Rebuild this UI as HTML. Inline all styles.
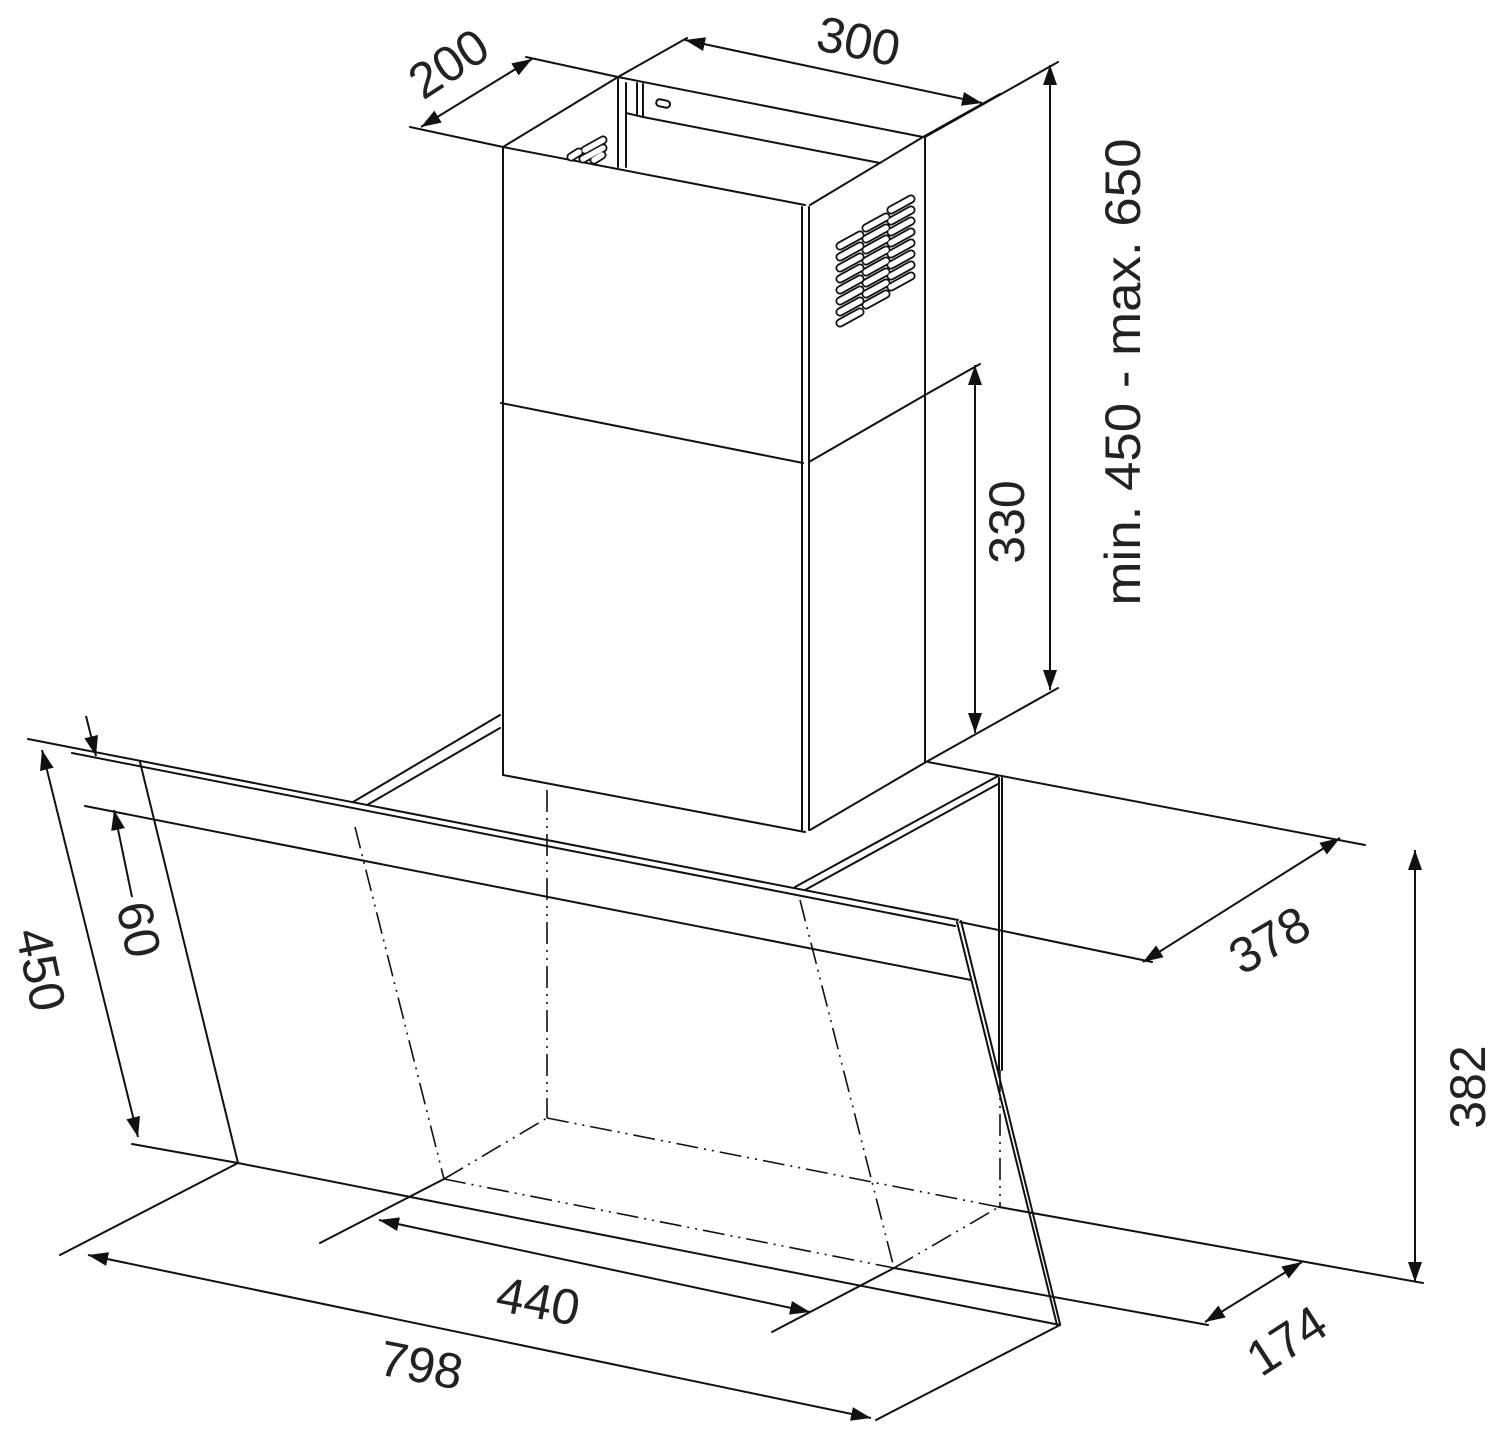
<!DOCTYPE html>
<html><head><meta charset="utf-8"><style>
html,body{margin:0;padding:0;background:#fff;}
svg{display:block;}
text{font-family:"Liberation Sans",sans-serif;fill:#222;font-size:50px;}
</style></head><body>
<svg width="1500" height="1434" viewBox="0 0 1500 1434" xmlns="http://www.w3.org/2000/svg">
<defs>
<marker id="a" viewBox="0 0 20 14" refX="20" refY="7" markerWidth="20" markerHeight="14" markerUnits="userSpaceOnUse" orient="auto-start-reverse">
<path d="M0,0 L20,7 L0,14 z" fill="#111"/></marker>
</defs>
<g stroke="#111" stroke-width="2" fill="none" stroke-linecap="round">
<line x1="503" y1="147" x2="618" y2="77"/>
<line x1="503" y1="147" x2="805" y2="205"/>
<line x1="810" y1="205" x2="923" y2="137"/>
<line x1="618" y1="77" x2="923" y2="137"/>
<line x1="643" y1="117" x2="880" y2="163"/>
<line x1="618" y1="77" x2="618" y2="167"/>
<line x1="626" y1="83" x2="626" y2="167"/>
<line x1="637" y1="83" x2="637" y2="115"/>
<line x1="643" y1="84" x2="643" y2="117"/>
<line x1="626" y1="113" x2="643" y2="117"/>
<rect x="656" y="100" width="14" height="7" rx="3.5" transform="rotate(12 663 104)"/>
<line x1="503" y1="147" x2="503" y2="775"/>
<line x1="802" y1="207" x2="802" y2="830"/>
<line x1="809" y1="207" x2="809" y2="830"/>
<line x1="925" y1="137" x2="925" y2="762"/>
<line x1="501" y1="403" x2="803" y2="463"/>
<line x1="809" y1="462" x2="925" y2="395"/>
<line x1="503" y1="775" x2="805" y2="832"/>
<line x1="810" y1="830" x2="926" y2="762"/>
<line x1="353" y1="802" x2="500" y2="715"/>
<line x1="367" y1="805" x2="500" y2="728"/>
<line x1="795" y1="887" x2="998" y2="776"/>
<line x1="805" y1="890" x2="998" y2="784"/>
<line x1="999" y1="778" x2="999" y2="1070"/>
<line x1="1002" y1="778" x2="1002" y2="1070"/>
<line x1="28" y1="739" x2="958" y2="920"/>
<line x1="72" y1="753" x2="955" y2="926"/>
<line x1="140" y1="762" x2="238" y2="1163"/>
<line x1="957" y1="922" x2="1057" y2="1325"/>
<line x1="961" y1="921" x2="1060" y2="1324"/>
<line x1="238" y1="1163" x2="1060" y2="1325"/>
<line x1="85" y1="806" x2="971" y2="980"/>
<line x1="960" y1="922" x2="1152" y2="962"/>
<line x1="928" y1="762" x2="1365" y2="845"/>
<line x1="999" y1="1207" x2="1423" y2="1283"/>
<line x1="894" y1="1268" x2="1208" y2="1325"/>
<line x1="132" y1="1144" x2="238" y2="1163"/>
<line x1="60" y1="1255" x2="238" y2="1163"/>
<line x1="876" y1="1420" x2="1060" y2="1325"/>
<line x1="320" y1="1243" x2="444" y2="1179"/>
<line x1="772" y1="1332" x2="894" y2="1268"/>
<line x1="926" y1="762" x2="1058" y2="688"/>
<line x1="925" y1="395" x2="980" y2="364"/>
<line x1="925" y1="137" x2="1058" y2="62"/>
<line x1="410" y1="127" x2="503" y2="147"/>
<line x1="526" y1="57" x2="618" y2="77"/>
<line x1="618" y1="77" x2="687" y2="38"/>
<line x1="923" y1="137" x2="1000" y2="94"/>
</g>
<g stroke="#111" stroke-width="1.6" fill="none" stroke-dasharray="22 6 2 6 2 6">
<line x1="547" y1="790" x2="547" y2="1118"/>
<line x1="355" y1="827" x2="444" y2="1179"/>
<line x1="800" y1="900" x2="894" y2="1268"/>
<line x1="547" y1="1118" x2="999" y2="1207"/>
<line x1="444" y1="1179" x2="894" y2="1268"/>
<line x1="444" y1="1179" x2="547" y2="1118"/>
<line x1="894" y1="1268" x2="999" y2="1207"/>
<line x1="1000" y1="1070" x2="1000" y2="1207"/>
</g>
<g stroke="#111" stroke-width="2" fill="none" marker-start="url(#a)" marker-end="url(#a)">
<line x1="421" y1="127" x2="532" y2="59"/>
<line x1="685" y1="40" x2="982" y2="103"/>
<line x1="1050" y1="65" x2="1050" y2="690"/>
<line x1="975" y1="365" x2="975" y2="733"/>
<line x1="1340" y1="838" x2="1143" y2="962"/>
<line x1="1415" y1="850" x2="1415" y2="1282"/>
<line x1="1302" y1="1262" x2="1205" y2="1322"/>
<line x1="42" y1="750" x2="138" y2="1137"/>
<line x1="379" y1="1220" x2="810" y2="1312"/>
<line x1="88" y1="1255" x2="871" y2="1418"/>
</g>
<g stroke="#111" stroke-width="2" fill="none">
<line x1="86" y1="716" x2="96" y2="756" marker-end="url(#a)"/>
<line x1="132" y1="897" x2="114" y2="810" marker-end="url(#a)"/>
</g>
<g stroke-linecap="round">
<g stroke="#111" stroke-width="9">
<path d="M840,246 l20,-11 M840,257 l20,-11 M840,268 l20,-11 M840,279 l20,-11 M840,290 l20,-11 M840,301 l20,-11 M840,312 l20,-11 M840,323 l20,-11"/>
<path d="M866,228 l20,-11 M866,239 l20,-11 M866,250 l20,-11 M866,261 l20,-11 M866,272 l20,-11 M866,283 l20,-11 M866,294 l20,-11 M866,305 l20,-11"/>
<path d="M891,210 l20,-11 M891,221 l20,-11 M891,232 l20,-11 M891,243 l20,-11 M891,254 l20,-11 M891,265 l20,-11 M891,276 l20,-11 M891,287 l20,-11"/>
<path d="M585,150 l18,-10 M583,159 l20,-11 M571,157 l8,-5 M594,160 l8,-5"/>
</g>
<g stroke="#fff" stroke-width="5.5">
<path d="M840,246 l20,-11 M840,257 l20,-11 M840,268 l20,-11 M840,279 l20,-11 M840,290 l20,-11 M840,301 l20,-11 M840,312 l20,-11 M840,323 l20,-11"/>
<path d="M866,228 l20,-11 M866,239 l20,-11 M866,250 l20,-11 M866,261 l20,-11 M866,272 l20,-11 M866,283 l20,-11 M866,294 l20,-11 M866,305 l20,-11"/>
<path d="M891,210 l20,-11 M891,221 l20,-11 M891,232 l20,-11 M891,243 l20,-11 M891,254 l20,-11 M891,265 l20,-11 M891,276 l20,-11 M891,287 l20,-11"/>
<path d="M585,150 l18,-10 M583,159 l20,-11 M571,157 l8,-5 M594,160 l8,-5"/>
</g>
</g>
<text x="0" y="0" text-anchor="middle" transform="translate(458,78) rotate(-33)">200</text>
<text x="0" y="0" text-anchor="middle" transform="translate(855,58) rotate(12)">300</text>
<text x="0" y="0" text-anchor="middle" textLength="467" lengthAdjust="spacingAndGlyphs" transform="translate(1140,372) rotate(-90)">min. 450 - max. 650</text>
<text x="0" y="0" text-anchor="middle" transform="translate(1024,522) rotate(-90)">330</text>
<text x="0" y="0" text-anchor="middle" transform="translate(1278,955) rotate(-30)">378</text>
<text x="0" y="0" text-anchor="middle" transform="translate(1485,1087) rotate(-90)">382</text>
<text x="0" y="0" text-anchor="middle" transform="translate(1296,1355) rotate(-33)">174</text>
<text x="0" y="0" text-anchor="middle" transform="translate(535,1318) rotate(11)">440</text>
<text x="0" y="0" text-anchor="middle" transform="translate(418,1382) rotate(11)">798</text>
<text x="0" y="0" text-anchor="middle" transform="translate(24,973) rotate(78)">450</text>
<text x="0" y="0" text-anchor="middle" transform="translate(122,933) rotate(78)">60</text>
</svg>
</body></html>
